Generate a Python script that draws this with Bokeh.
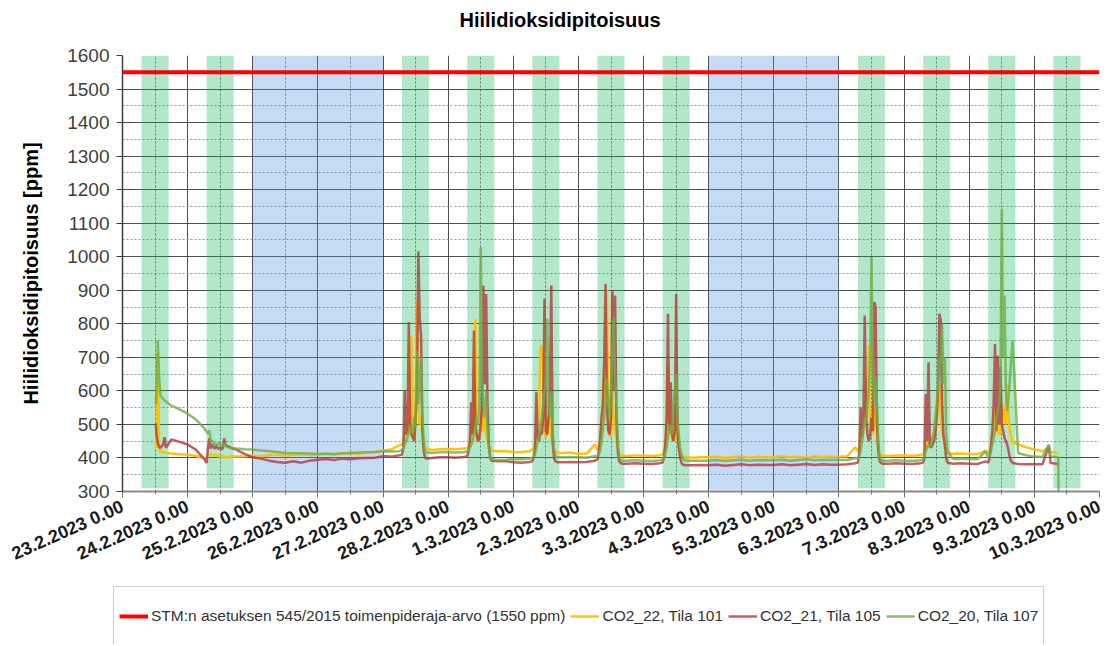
from bokeh.plotting import figure
from bokeh.models import FixedTicker, Legend, LegendItem, Title
from bokeh.embed import file_html
from bokeh.resources import INLINE

# ---------------- data ----------------
TITLE = "Hiilidioksidipitoisuus"
Y_LABEL = "Hiilidioksidipitoisuus [ppm]"
DAY_LABELS = ["23.2.2023 0.00", "24.2.2023 0.00", "25.2.2023 0.00", "26.2.2023 0.00",
              "27.2.2023 0.00", "28.2.2023 0.00", "1.3.2023 0.00", "2.3.2023 0.00",
              "3.3.2023 0.00", "4.3.2023 0.00", "5.3.2023 0.00", "6.3.2023 0.00",
              "7.3.2023 0.00", "8.3.2023 0.00", "9.3.2023 0.00", "10.3.2023 0.00"]
Y_TICKS = [300, 400, 500, 600, 700, 800, 900, 1000, 1100, 1200, 1300, 1400, 1500, 1600]
LIMIT_VALUE = 1550
LIMIT_LABEL = "STM:n asetuksen 545/2015 toimenpideraja-arvo (1550 ppm)"
SERIES_LABELS = ["CO2_22, Tila 101", "CO2_21, Tila 105", "CO2_20, Tila 107"]

# day types (workday = occupied, free = weekend)
SCHEDULE = ["first", "work", "free", "free", "work", "work", "work", "work", "work",
            "free", "free", "work", "work", "work", "last"]
HOURS = {
    "first": [12.3, 12.5, 13, 13.5, 14, 14.5, 15, 15.5, 16, 18, 21],
    "work": [0, 3, 6, 7, 7.5, 8, 8.5, 9, 9.5, 10, 10.5, 11, 11.5, 12, 12.5, 13, 13.5,
             14, 14.5, 15, 15.5, 16, 18, 21],
    "free": [0, 3, 6, 9, 12, 15, 18, 21],
    "last": [0, 3, 5.3, 6, 7, 8, 8.5, 8.8, 8.9],
}
OCCUPIED_HOURS = (7, 17)

co2_22 = [  # yellow
    [430, 440, 711, 430, 418, 420, 416, 417, 415, 413, 411],
    [410, 406, 400, 398, 405, 412, 410, 408, 412, 406, 410, 404, 408, 403, 406, 402, 405, 401, 404, 402, 403, 405, 404, 405],
    [407, 405, 408, 410, 406, 409, 411, 408],
    [410, 412, 409, 413, 415, 412, 416, 418],
    [422, 425, 438, 440, 445, 460, 480, 470, 520, 480, 765, 470, 460, 520, 870, 560, 500, 520, 470, 430, 425, 428, 424, 426],
    [427, 426, 428, 430, 432, 440, 460, 520, 480, 815, 470, 450, 460, 480, 560, 480, 520, 470, 450, 435, 425, 422, 420, 421],
    [417, 418, 420, 425, 430, 440, 460, 480, 520, 735, 730, 690, 480, 460, 470, 500, 540, 470, 440, 420, 417, 416, 415, 416],
    [412, 413, 440, 425, 430, 450, 480, 520, 640, 560, 900, 500, 470, 460, 600, 520, 480, 460, 430, 410, 408, 407, 406, 407],
    [407, 406, 408, 410, 420, 440, 480, 682, 470, 520, 460, 450, 470, 520, 460, 430, 420, 410, 405, 403, 402, 402, 401, 402],
    [402, 404, 400, 403, 405, 401, 404, 402],
    [403, 405, 402, 404, 401, 405, 403, 404],
    [404, 405, 432, 420, 430, 440, 460, 480, 520, 560, 640, 735, 480, 520, 470, 500, 560, 470, 430, 410, 408, 407, 406, 407],
    [407, 406, 409, 410, 420, 430, 450, 440, 430, 450, 460, 480, 470, 520, 560, 620, 520, 480, 460, 440, 425, 415, 412, 413],
    [412, 411, 422, 415, 420, 430, 450, 470, 520, 560, 480, 470, 480, 520, 560, 520, 500, 620, 520, 480, 460, 448, 440, 432],
    [425, 420, 430, 418, 417, 416, 415, 416, 416],
]
co2_21 = [  # dark red
    [503, 470, 445, 432, 430, 436, 440, 462, 430, 455, 448],
    [440, 425, 398, 385, 430, 458, 428, 440, 432, 428, 436, 430, 427, 432, 425, 430, 458, 438, 436, 435, 432, 430, 424, 412],
    [402, 398, 392, 388, 386, 390, 386, 392],
    [395, 397, 394, 398, 396, 399, 400, 401],
    [405, 404, 408, 410, 430, 600, 470, 480, 805, 500, 470, 460, 450, 520, 600, 1016, 820, 765, 480, 420, 400, 398, 400, 402],
    [402, 401, 403, 405, 420, 450, 566, 470, 780, 500, 470, 450, 460, 500, 560, 914, 620, 889, 560, 440, 400, 392, 390, 391],
    [387, 386, 388, 390, 400, 430, 596, 460, 450, 480, 470, 520, 875, 480, 470, 520, 620, 914, 450, 400, 390, 388, 387, 388],
    [387, 388, 392, 395, 420, 460, 520, 560, 700, 919, 560, 480, 470, 520, 900, 600, 884, 520, 420, 390, 385, 383, 383, 384],
    [383, 382, 384, 386, 400, 440, 520, 830, 480, 626, 470, 450, 480, 889, 480, 430, 400, 385, 380, 379, 378, 378, 378, 379],
    [378, 380, 377, 379, 381, 378, 380, 379],
    [379, 381, 378, 380, 382, 379, 381, 380],
    [380, 381, 384, 386, 420, 551, 460, 520, 825, 520, 470, 450, 470, 520, 480, 865, 850, 500, 420, 390, 385, 383, 383, 384],
    [383, 382, 384, 386, 400, 591, 450, 685, 440, 430, 440, 450, 470, 520, 600, 830, 810, 560, 470, 440, 400, 386, 383, 384],
    [383, 382, 390, 386, 400, 440, 480, 560, 740, 480, 705, 500, 671, 500, 480, 460, 450, 440, 420, 400, 390, 385, 382, 381],
    [382, 381, 437, 385, 384, 383, 382, 382, 380],
]
co2_20 = [  # green
    [560, 600, 750, 640, 586, 580, 576, 572, 568, 556, 545],
    [532, 515, 490, 478, 472, 482, 448, 452, 446, 440, 442, 437, 445, 440, 438, 436, 442, 435, 433, 432, 431, 430, 428, 426],
    [425, 422, 420, 418, 415, 414, 414, 413],
    [412, 413, 412, 414, 415, 416, 417, 418],
    [420, 419, 420, 425, 430, 440, 450, 460, 480, 470, 500, 480, 520, 492, 720, 560, 652, 700, 520, 450, 420, 417, 415, 417],
    [417, 416, 418, 420, 425, 430, 440, 450, 470, 480, 520, 500, 560, 1028, 620, 560, 520, 600, 480, 430, 400, 396, 395, 394],
    [397, 396, 398, 400, 405, 410, 430, 450, 470, 500, 520, 560, 600, 640, 815, 560, 520, 600, 480, 430, 405, 402, 402, 403],
    [402, 401, 405, 405, 410, 420, 450, 480, 520, 560, 640, 560, 520, 600, 720, 820, 640, 560, 450, 400, 394, 392, 392, 393],
    [392, 391, 393, 395, 400, 410, 430, 460, 500, 480, 470, 560, 600, 650, 520, 467, 430, 410, 400, 394, 393, 392, 392, 392],
    [392, 394, 391, 393, 395, 392, 394, 393],
    [393, 395, 392, 394, 396, 393, 395, 394],
    [395, 394, 400, 398, 405, 420, 450, 480, 520, 500, 560, 600, 700, 999, 640, 560, 640, 560, 450, 400, 394, 392, 392, 393],
    [392, 391, 393, 395, 405, 420, 432, 440, 430, 440, 460, 480, 520, 560, 620, 700, 680, 800, 620, 700, 480, 420, 397, 398],
    [397, 396, 420, 400, 405, 420, 440, 460, 480, 520, 540, 560, 620, 1143, 700, 884, 600, 540, 580, 640, 700, 750, 415, 408],
    [404, 403, 440, 405, 404, 403, 402, 402, 300],
]

# ---------------- build ----------------
t = []
for d, kind in enumerate(SCHEDULE):
    t += [d + h / 24.0 for h in HOURS[kind]]


def flatten(series, name):
    out = []
    for d, vals in enumerate(series):
        n = len(HOURS[SCHEDULE[d]])
        if len(vals) != n:
            raise ValueError(f"{name} day {d}: {len(vals)} values, expected {n}")
        out += vals
    return out


y22 = flatten(co2_22, "co2_22")
y21 = flatten(co2_21, "co2_21")
y20 = flatten(co2_20, "co2_20")

n_days = len(DAY_LABELS) - 1
FONT = "Liberation Sans"
W = 1105

STYLE_LIMIT = dict(line_color="#FF0000", line_width=4)
STYLE_22 = dict(line_color="#FFC000", line_width=2.5, line_alpha=0.95)
STYLE_21 = dict(line_color="#B23A3E", line_width=2.5, line_alpha=0.8)
STYLE_20 = dict(line_color="#6FAE46", line_width=2.5, line_alpha=0.8)

p = figure(width=W, height=580,
           min_border_left=122, min_border_right=6, min_border_top=55, min_border_bottom=89,
           x_range=(0, n_days), y_range=(Y_TICKS[0], Y_TICKS[-1]),
           output_backend="svg", toolbar_location=None, title=None)
p.outline_line_color = None
p.background_fill_color = "white"

# title: spacer first (closest to the frame), then the title text above it
p.add_layout(Title(text=" ", text_font_size="10px", standoff=10), "above")
p.add_layout(Title(text=TITLE, text_font=FONT, text_font_size="20px", text_font_style="bold",
                   text_color="#000000", align="left", offset=337,
                   vertical_align="bottom", standoff=4), "above")

# ticks
xt = FixedTicker(ticks=list(range(n_days + 1)), minor_ticks=[d + 0.5 for d in range(n_days)])
yt = FixedTicker(ticks=Y_TICKS, minor_ticks=[v + 50 for v in Y_TICKS[:-1]])
p.xaxis.ticker = xt
p.yaxis.ticker = yt
p.xgrid.ticker = xt
p.ygrid.ticker = yt
p.xaxis.major_label_overrides = {i: lab for i, lab in enumerate(DAY_LABELS)}

# grid
for g in (p.xgrid, p.ygrid):
    g.grid_line_color = "#3c3c3c"
    g.grid_line_width = 1
    g.grid_line_alpha = 0.9
p.xgrid.minor_grid_line_color = "#505050"
p.xgrid.minor_grid_line_dash = "2 2"
p.xgrid.minor_grid_line_alpha = 0.8
p.ygrid.minor_grid_line_color = "#8a8a8a"
p.ygrid.minor_grid_line_dash = "2 2"
p.ygrid.minor_grid_line_alpha = 0.9

# axes
p.xaxis.axis_line_color = "#8a8a8a"
p.xaxis.axis_line_width = 2
p.xaxis.major_tick_line_color = "#707070"
p.xaxis.major_tick_out = 6
p.xaxis.major_tick_in = 0
p.xaxis.minor_tick_line_color = "#707070"
p.xaxis.minor_tick_out = 3
p.xaxis.minor_tick_in = 0
p.xaxis.major_label_orientation = 0.42
p.xaxis.major_label_text_font = FONT
p.xaxis.major_label_text_font_size = "18px"
p.xaxis.major_label_text_font_style = "bold"
p.xaxis.major_label_text_color = "#1a1a1a"
p.xaxis.major_label_standoff = 8

p.yaxis.axis_line_color = "#404040"
p.yaxis.axis_line_width = 1.5
p.yaxis.major_tick_line_color = "#404040"
p.yaxis.major_tick_out = 6
p.yaxis.major_tick_in = 0
p.yaxis.minor_tick_line_color = None
p.yaxis.major_label_text_font = FONT
p.yaxis.major_label_text_font_size = "19px"
p.yaxis.major_label_text_color = "#404040"
p.yaxis.major_label_standoff = 7
p.yaxis.axis_label = Y_LABEL
p.yaxis.axis_label_text_font = FONT
p.yaxis.axis_label_text_font_size = "20px"
p.yaxis.axis_label_text_font_style = "bold"
p.yaxis.axis_label_text_color = "#000000"
p.yaxis.axis_label_standoff = 22

# occupancy bands (workdays green, weekends blue)
work_days = [d for d, k in enumerate(SCHEDULE) if k in ("work", "first", "last")]
p.quad(left=[d + OCCUPIED_HOURS[0] / 24 for d in work_days],
       right=[d + OCCUPIED_HOURS[1] / 24 for d in work_days],
       bottom=310, top=Y_TICKS[-1], fill_color="#00B050", fill_alpha=0.3, line_color=None)
spans = []
for d, k in enumerate(SCHEDULE):
    if k == "free":
        if spans and spans[-1][1] == d:
            spans[-1][1] = d + 1
        else:
            spans.append([d, d + 1])
p.quad(left=[s[0] for s in spans], right=[s[1] for s in spans],
       bottom=305, top=Y_TICKS[-1], fill_color="#5794E1", fill_alpha=0.35, line_color=None)

# series
limit_x = [0, n_days]
limit_y = [LIMIT_VALUE, LIMIT_VALUE]
p.line(limit_x, limit_y, **STYLE_LIMIT)
p.line(t, y22, **STYLE_22)
p.line(t, y21, **STYLE_21)
p.line(t, y20, **STYLE_20)

# ---------------- legend strip (separate root, full-width frame) ----------------
lp = figure(width=W, height=64, min_border=0, min_border_left=0, min_border_right=0,
            min_border_top=0, min_border_bottom=0,
            x_range=(0, 1), y_range=(0, 1), x_axis_type=None, y_axis_type=None,
            output_backend="svg", toolbar_location=None)
lp.outline_line_color = None
lp.grid.visible = False
# same series as the chart; they lie outside this strip's range so only legend glyphs show
l_limit = lp.line(limit_x, limit_y, **STYLE_LIMIT)
l22 = lp.line(t, y22, **STYLE_22)
l21 = lp.line(t, y21, **STYLE_21)
l20 = lp.line(t, y20, **STYLE_20)

legend = Legend(items=[LegendItem(label=LIMIT_LABEL, renderers=[l_limit]),
                       LegendItem(label=SERIES_LABELS[0], renderers=[l22]),
                       LegendItem(label=SERIES_LABELS[1], renderers=[l21]),
                       LegendItem(label=SERIES_LABELS[2], renderers=[l20])],
                orientation="horizontal", location=(113, -2),
                glyph_width=29, glyph_height=48, label_height=48, label_standoff=3,
                spacing=5, padding=5, margin=0,
                border_line_color="#a0a0a0", border_line_width=1,
                background_fill_color="white", background_fill_alpha=1,
                label_text_font=FONT, label_text_font_size="15.5px", label_text_color="#333333")
lp.add_layout(legend)

open("out.html", "w").write(file_html([p, lp], INLINE))
